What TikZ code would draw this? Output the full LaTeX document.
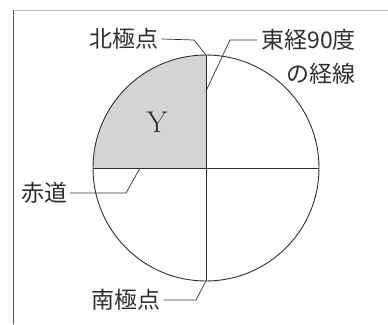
\documentclass[tikz,border=0pt]{standalone}
\usepackage{fontspec}
\newfontfamily\jp{Noto Sans CJK JP}
\definecolor{ink}{HTML}{303030}
\definecolor{quadgray}{HTML}{D4D4D4}
\begin{document}
\begin{tikzpicture}[x=1pt,y=-1pt,
  lbl/.style={inner sep=0pt,text=ink,font=\jp\fontsize{23}{25}\selectfont},
  lead/.style={draw=ink,line width=0.7pt},
  geo/.style={draw=ink,line width=0.9pt}]
\useasboundingbox (0,0) rectangle (388,324);
\draw[gray!55,line width=1pt] (13,10) -- (388,10);
\draw[black!65,line width=1pt] (13,10) -- (13,324);
\coordinate (O) at (206,168);
\coordinate (N) at (206,55);
\coordinate (S) at (206,281);
\coordinate (W) at (93,168);
\coordinate (E) at (319,168);
\coordinate (M) at (206,91);
\coordinate (Q) at (140,168);
\begin{scope}
  \clip (O) circle[radius=113pt];
  \fill[quadgray] (80,40) rectangle (O);
\end{scope}
\draw[geo] (O) circle[radius=113pt];
\draw[geo] (N) -- (S);
\draw[geo] (W) -- (E);
\node[inner sep=0pt,text=ink,font=\fontsize{30}{32}\selectfont] (Y) at (157,122) {Y};
\node[lbl,anchor=center] (np) at (124,39) {北極点};
\node[lbl,anchor=east] (e1) at (356,40) {東経90度};
\node[lbl,anchor=east] (e2) at (356,74) {の経線};
\node[lbl,anchor=center] (eq) at (44,193) {赤道};
\node[lbl,anchor=center] (sp) at (126,300) {南極点};
\draw[lead] ([xshift=3pt]np.east) -- (194,40) -- (N);
\draw[lead] ([xshift=-4pt]e1.west) -- (230,40) -- (M);
\draw[lead] ([xshift=3pt]eq.east) -- (126,193) -- (Q);
\draw[lead] ([xshift=3pt]sp.east) -- (196,300) -- (S);
\end{tikzpicture}
\end{document}
